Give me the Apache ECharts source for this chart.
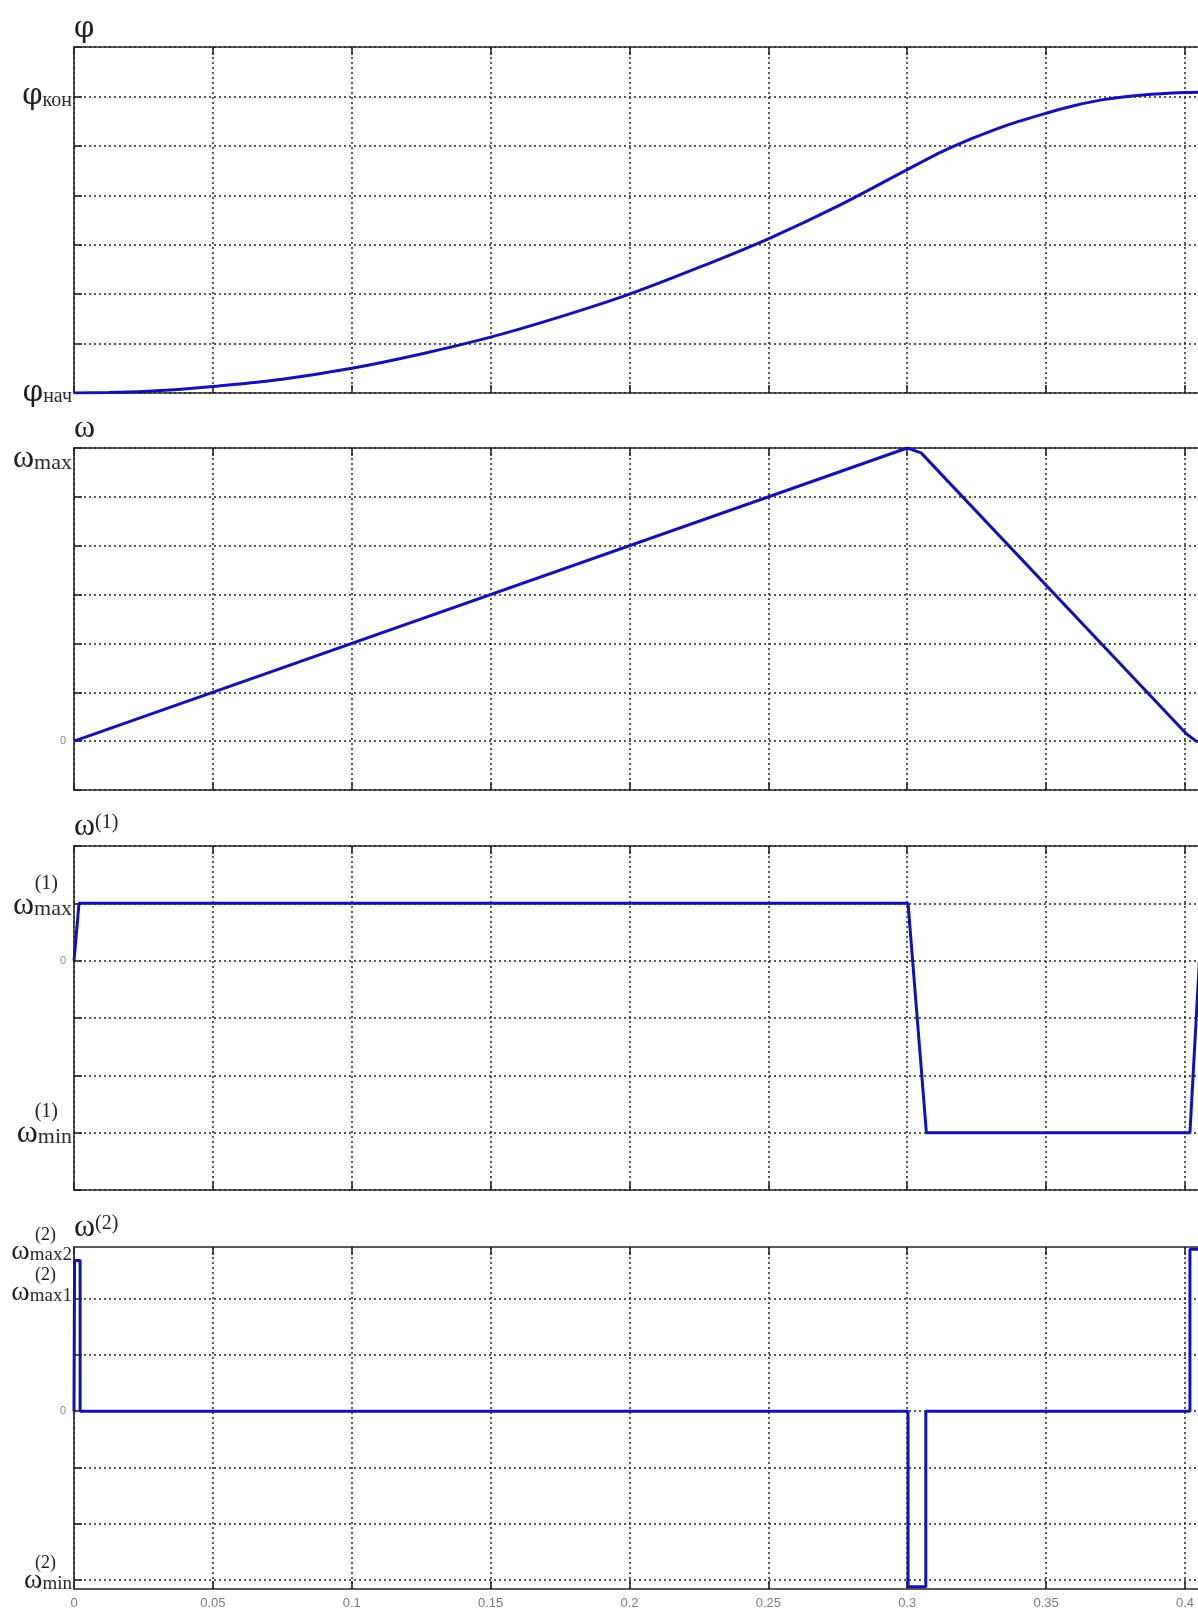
<!DOCTYPE html>
<html><head><meta charset="utf-8">
<script src="https://cdn.jsdelivr.net/npm/echarts@6/dist/echarts.min.js"></script>
<style>html,body{margin:0;padding:0;background:#fff}#c{width:1198px;height:1612px}</style>
</head><body><div id="c"></div>
<script>
// ---- data ----
const xTicks = [0, 0.05, 0.1, 0.15, 0.2, 0.25, 0.3, 0.35, 0.4];
const xTickLabels = ['0', '0.05', '0.1', '0.15', '0.2', '0.25', '0.3', '0.35', '0.4'];
const xMax = 0.4047;

// φ(t)
const phiT = [0, 0.0125, 0.025, 0.0375, 0.05, 0.075, 0.1, 0.125, 0.15, 0.175, 0.2, 0.225, 0.25, 0.275, 0.3, 0.315, 0.333, 0.35, 0.36, 0.37, 0.385, 0.4, 0.41];
const phiV = [0, 0.01, 0.03, 0.07, 0.13, 0.28, 0.5, 0.79, 1.13, 1.54, 2.0, 2.54, 3.12, 3.78, 4.52, 4.95, 5.36, 5.66, 5.81, 5.93, 6.03, 6.08, 6.09];
// ω(t)
const omT = [0, 0.3, 0.305, 0.4005, 0.404, 0.41];
const omV = [0, 6, 5.9, 0.15, 0, 0];
// ω(1)(t)
const om1T = [0, 0.0018, 0.3003, 0.3069, 0.4018, 0.4052, 0.41];
const om1V = [0, 1, 1, -3, -3, 0, 0];
// ω(2)(t)
const om2T = [0, 0.0002, 0.0022, 0.0022, 0.3003, 0.3003, 0.3067, 0.3067, 0.4018, 0.4018, 0.41];
const om2V = [0, 2.68, 2.68, 0, 0, -3.12, -3.12, 0, 0, 2.88, 2.88];

// y-axis ranges (in gridline units)
const phiRange = [0, 7];
const omRange = [-1, 6];
const om1Range = [-4, 2];
const om2Range = [-3.16, 2.918];
const om2Ticks = [-3, -2, -1, 0, 1, 2];
const om2LabelVals = [-3, 0, 2.918];
const om2Max1Val = [2];

// ---- helpers ----
const zip = (a, b) => a.map((t, i) => [t, b[i]]);
const BLUE = '#1212b0';
const AX = '#262626';
const SERIF = 'Liberation Serif';
const rich = {
  f: { fontFamily: 'DejaVu Serif', fontSize: 29, color: '#1e1e1e', lineHeight: 30, verticalAlign: 'bottom' },
  g: { fontFamily: SERIF, fontSize: 32, color: '#1e1e1e', lineHeight: 30, verticalAlign: 'bottom' },
  s: { fontFamily: SERIF, fontSize: 22, color: '#2a2a2a', lineHeight: 30, verticalAlign: 'bottom', padding: [0, 0, 1, 0] },
  c: { fontFamily: SERIF, fontSize: 20, color: '#2a2a2a', lineHeight: 30, verticalAlign: 'bottom', padding: [0, 0, 1, 0] },
  sup: { fontFamily: SERIF, fontSize: 20, color: '#222', lineHeight: 16, padding: [0, 14, 0, 0] },
  sp: { fontFamily: SERIF, fontSize: 20, color: '#222', lineHeight: 30, verticalAlign: 'top' },
  g2: { fontFamily: SERIF, fontSize: 28, color: '#1e1e1e', lineHeight: 24, verticalAlign: 'bottom' },
  s2: { fontFamily: SERIF, fontSize: 19, color: '#2a2a2a', lineHeight: 24, verticalAlign: 'bottom', padding: [0, 0, 1, 0] },
  sup2: { fontFamily: SERIF, fontSize: 18, color: '#222', lineHeight: 14, padding: [0, 16, 0, 0] },
  z: { fontFamily: 'Liberation Sans', fontSize: 11, color: '#8a8a8a', padding: [0, 6, 0, 0] },
  e9: { fontSize: 2, lineHeight: 9 },
  e10: { fontSize: 2, lineHeight: 10 },
  e12: { fontSize: 2, lineHeight: 12 },
  e23: { fontSize: 2, lineHeight: 23 },
  e24: { fontSize: 2, lineHeight: 24 }
};
const near = (a, b) => Math.abs(a - b) < 1e-6;
const GRIDLINE = { color: '#222', width: 1.5, type: [2, 3] };

const grids = [
  { left: 74, right: 0, top: 47, height: 346 },
  { left: 74, right: 0, top: 448, height: 342 },
  { left: 74, right: 0, top: 846, height: 344 },
  { left: 74, right: 0, top: 1247, height: 342 }
];

const xAxes = [];
grids.forEach((g, i) => {
  xAxes.push({
    type: 'value', gridIndex: i, min: 0, max: xMax, position: 'bottom',
    axisLine: { show: true, onZero: false, lineStyle: { color: AX, width: 1.6 } },
    axisTick: { show: true, inside: true, length: 8, customValues: xTicks, lineStyle: { color: AX, width: 1.6 } },
    axisLabel: {
      show: i === 3, customValues: xTicks, margin: 8, color: '#7a7a7a', fontSize: 13, fontFamily: 'Liberation Sans',
      hideOverlap: false, showMinLabel: true, showMaxLabel: true,
      formatter: v => { const k = xTicks.findIndex(t => near(t, v)); return k >= 0 ? xTickLabels[k] : ''; }
    },
    splitLine: { show: true, lineStyle: GRIDLINE }
  });
  xAxes.push({
    type: 'value', gridIndex: i, min: 0, max: xMax, position: 'top',
    axisLine: { show: true, onZero: false, lineStyle: { color: AX, width: 1.6 } },
    axisTick: { show: true, inside: true, length: 8, customValues: xTicks, lineStyle: { color: AX, width: 1.6 } },
    axisLabel: { show: false }, splitLine: { show: false }
  });
});

const yBase = (i, range) => ({
  type: 'value', gridIndex: i, min: range[0], max: range[1], position: 'left',
  axisLine: { show: true, onZero: false, lineStyle: { color: AX, width: 1.6 } },
  axisTick: { show: true, inside: true, length: 8, lineStyle: { color: AX, width: 1.6 } },
  splitLine: { show: true, lineStyle: GRIDLINE },
  nameLocation: 'end', nameGap: 3, nameMoveOverlap: false,
  nameTextStyle: { align: 'left', rich: rich }
});
const labelBase = { margin: 2, hideOverlap: false, showMinLabel: true, showMaxLabel: true, rich: rich };

const y1 = Object.assign(yBase(0, phiRange), {
  interval: 1, name: '{f|φ}',
  axisLabel: Object.assign({}, labelBase, { formatter: v => v === 6 ? '{f|φ}{c|кон}' : (v === 0 ? '{f|φ}{c|нач}' : '') })
});
const y2 = Object.assign(yBase(1, omRange), {
  interval: 1, name: '{g|ω}',
  axisLabel: Object.assign({}, labelBase, { formatter: v => v === 6 ? '{e24| }\n{g|ω}{s|max}' : (v === 0 ? '{z|0}' : '') })
});
const y3 = Object.assign(yBase(2, om1Range), {
  interval: 1, name: '{g|ω}{sp|(1)}',
  axisLabel: Object.assign({}, labelBase, {
    formatter: v => v === 1 ? '{sup|(1)}\n{g|ω}{s|max}\n{e10| }' : (v === 0 ? '{z|0}' : (v === -3 ? '{sup|(1)}\n{g|ω}{s|min}\n{e12| }' : ''))
  })
});
const y4 = yBase(3, om2Range);
y4.name = '{g|ω}{sp|(2)}';
y4.axisTick.customValues = om2Ticks;
y4.axisLabel = Object.assign({}, labelBase, {
  customValues: om2LabelVals,
  formatter: v => near(v, 2.918) ? '{sup2|(2)}\n{g2|ω}{s2|max2}' :
    (near(v, 0) ? '{z|0}' : (near(v, -3) ? '{sup2|(2)}\n{g2|ω}{s2|min}\n{e9| }' : ''))
});
// companion axis on the same grid carrying only the ω(2)max1 label
const y4b = {
  type: 'value', gridIndex: 3, min: om2Range[0], max: om2Range[1], position: 'left', offset: 0,
  axisLine: { show: false }, axisTick: { show: false }, splitLine: { show: false },
  axisLabel: Object.assign({}, labelBase, {
    customValues: om2Max1Val,
    formatter: v => near(v, 2) ? '{sup2|(2)}\n{g2|ω}{s2|max1}\n{e23| }' : ''
  })
};

const lineSeries = (i, data, smooth) => ({
  type: 'line', xAxisIndex: 2 * i, yAxisIndex: i, data: data, smooth: smooth ? 0.3 : false,
  showSymbol: false, symbol: 'none', clip: true,
  lineStyle: { color: BLUE, width: 3 }
});

const chart = echarts.init(document.getElementById('c'), null, { renderer: 'canvas' });
chart.setOption({
  animation: false,
  backgroundColor: '#ffffff',
  grid: grids,
  xAxis: xAxes,
  yAxis: [y1, y2, y3, y4, y4b],
  series: [
    lineSeries(0, zip(phiT, phiV), true),
    lineSeries(1, zip(omT, omV), false),
    lineSeries(2, zip(om1T, om1V), false),
    lineSeries(3, zip(om2T, om2V), false)
  ]
});
</script></body></html>
